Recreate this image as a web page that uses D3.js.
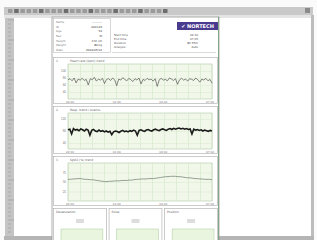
<!DOCTYPE html>
<html>
<head>
<meta charset="utf-8">
<script src="https://cdn.jsdelivr.net/npm/d3@7"></script>
<style>
  body { margin: 0; background: #fff; }
  svg { display: block; font-family: "DejaVu Sans", sans-serif; }
</style>
</head>
<body>
<svg id="chart" width="317" height="240"></svg>
<script>
// --- data ---
const hrValues = [75,78,72,80,66,77,74,79,73,76,60,78,75,82,71,77,74,79,64,76,78,73,80,75,58,77,74,81,76,72,79,75,70,78,74,80,63,76,73,79,75,77,71,78,56,75,79,74,76,72,80,77,73,78,62,75,79,74,77,71,78,76,73,80,75,68,77,74,79,72,76,65];
const rrValues = [84,86,70,88,83,85,81,87,84,80,86,83,66,82,85,80,78,83,79,81,77,80,76,79,68,77,80,78,75,79,82,78,80,77,81,79,83,80,66,82,84,81,79,83,85,82,80,84,86,83,81,85,87,84,82,86,88,85,89,86,88,90,87,89,86,88,85,87,70,86,83,85,82,84,80,83,81,79,82,80];
const spo2Values = [57,57,58,58,59,59,58,57,57,56,56,55,54,53,52,51,51,52,52,53,53,53,54,54,54,55,55,56,57,57,58,58,58,59,59,59,60,61,62,63,64,64,65,65,65,64,64,63,62,61,61,60,59,59,58,58,57,57,57,56];
const timeLabels = ["22:00", "01:00", "04:00", "07:00"];
const headerLabels = ["Name", "ID", "Age", "Sex", "Height", "Weight", "Date"];
const headerValues = ["----------", "000123", "54", "M", "172 cm", "80 kg", "2004/05/12"];
const infoLabels = ["Start time", "End time", "Duration", "Analysis"];
const infoValues = ["22:10", "07:05", "8h 55m", "Auto"];
const panelTitles = ["Heart rate (bpm)  trend", "Resp. trend  /  events", "SpO2 (%)  trend"];
const summaryTitles = ["Desaturation", "Pulse", "Position"];

const svg = d3.select("#chart");

// window frame
svg.append("rect").attr("x", 0).attr("y", 0).attr("width", 317).attr("height", 240).attr("fill", "#fafafa");
svg.append("rect").attr("x", 4).attr("y", 7).attr("width", 309).attr("height", 8).attr("fill", "#c9c9c9");
svg.append("rect").attr("x", 4).attr("y", 15).attr("width", 309).attr("height", 3).attr("fill", "#e4e4e4");
svg.append("rect").attr("x", 5).attr("y", 18).attr("width", 9).attr("height", 222).attr("fill", "#c4c4c4");
svg.append("rect").attr("x", 14).attr("y", 18).attr("width", 297).attr("height", 218).attr("fill", "#ffffff");
svg.append("rect").attr("x", 311).attr("y", 15).attr("width", 3).attr("height", 225).attr("fill", "#bdbdbd");
svg.append("rect").attr("x", 4).attr("y", 236).attr("width", 310).attr("height", 4).attr("fill", "#b5b5b5");

// toolbar buttons
const toolbar = d3.range(0, 26);
svg.append("g").selectAll("rect").data(toolbar).join("rect")
  .attr("x", (d) => 8 + d * 6.2).attr("y", 9).attr("width", 4.5).attr("height", 4)
  .attr("fill", (d) => (d % 4 === 1 ? "#6d6d6d" : "#9a9a9a"));
svg.append("rect").attr("x", 305).attr("y", 8).attr("width", 5).attr("height", 5).attr("fill", "#8a8a8a");

// ruler ticks
svg.append("g").selectAll("line").data(d3.range(20, 236, 4)).join("line")
  .attr("x1", 8).attr("x2", (d, i) => (i % 5 === 0 ? 14 : 11))
  .attr("y1", (d) => d).attr("y2", (d) => d)
  .attr("stroke", "#8c8c8c").attr("stroke-width", 0.5);

// page
svg.append("rect").attr("x", 52).attr("y", 17).attr("width", 167).attr("height", 224)
  .attr("fill", "#fff").attr("stroke", "#9a9a9a").attr("stroke-width", 0.8);
svg.append("line").attr("x1", 218.5).attr("x2", 218.5).attr("y1", 17).attr("y2", 240)
  .attr("stroke", "#6f9a72").attr("stroke-width", 0.8);

// header table
svg.append("rect").attr("x", 53.5).attr("y", 18.5).attr("width", 57).attr("height", 34)
  .attr("fill", "none").attr("stroke", "#b0b0b0").attr("stroke-width", 0.5);
const rowY = d3.scalePoint().domain(d3.range(headerLabels.length)).range([22, 50]);
svg.append("g").selectAll("text").data(headerLabels).join("text")
  .attr("x", 56).attr("y", (d, i) => rowY(i) + 1).text((d) => d)
  .attr("font-size", 2.8).attr("fill", "#777");
svg.append("g").selectAll("text").data(headerValues).join("text")
  .attr("x", 102).attr("y", (d, i) => rowY(i) + 1).text((d) => d)
  .attr("text-anchor", "end").attr("font-size", 2.8).attr("fill", "#333");

// logo
svg.append("rect").attr("x", 177).attr("y", 22).attr("width", 41).attr("height", 8).attr("fill", "#4a3b8f");
svg.append("text").attr("x", 197.5).attr("y", 28).attr("text-anchor", "middle")
  .attr("font-size", 5).attr("font-weight", "bold").attr("fill", "#fff").text("✔ NORTECH");

// info rows
const infoY = d3.scalePoint().domain(d3.range(infoLabels.length)).range([36, 48]);
svg.append("g").selectAll("text").data(infoLabels).join("text")
  .attr("x", 114).attr("y", (d, i) => infoY(i)).text((d) => d)
  .attr("font-size", 2.8).attr("fill", "#555");
svg.append("g").selectAll("text").data(infoValues).join("text")
  .attr("x", 198).attr("y", (d, i) => infoY(i)).text((d) => d)
  .attr("text-anchor", "end").attr("font-size", 2.8).attr("fill", "#444");
svg.append("line").attr("x1", 112).attr("x2", 216).attr("y1", 52.5).attr("y2", 52.5)
  .attr("stroke", "#b5b5b5").attr("stroke-width", 0.5);

// trend panels
const panels = [
  { values: hrValues, top: 57, bottom: 104, domain: [20, 120], ticks: [40, 60, 80, 100], width: 0.7, color: "#555" },
  { values: rrValues, top: 106, bottom: 154, domain: [20, 140], ticks: [40, 80, 120], width: 1.6, color: "#1a1a1a" },
  { values: spo2Values, top: 156, bottom: 206, domain: [0, 100], ticks: [25, 50, 75], width: 0.7, color: "#6a7a6a" },
];

panels.forEach((p, k) => {
  const g = svg.append("g");
  g.append("rect").attr("x", 53.5).attr("y", p.top + 0.5).attr("width", 164).attr("height", p.bottom - p.top - 1)
    .attr("fill", "#fff").attr("stroke", "#a8a8a8").attr("stroke-width", 0.6);
  g.append("text").attr("x", 56).attr("y", p.top + 5).attr("font-size", 3).attr("fill", "#666").text(k + 1);
  g.append("text").attr("x", 70).attr("y", p.top + 5).attr("font-size", 3).attr("fill", "#666").text(panelTitles[k]);

  const plotTop = p.top + 7;
  const plotBottom = p.bottom - 5;
  const x = d3.scaleLinear().domain([0, p.values.length - 1]).range([68, 212]);
  const y = d3.scaleLinear().domain(p.domain).range([plotBottom, plotTop]);
  const xt = d3.scaleLinear().domain([0, 12]).range([68, 212]);

  g.append("rect").attr("x", 68).attr("y", plotTop).attr("width", 144).attr("height", plotBottom - plotTop)
    .attr("fill", "#f1f8ea").attr("stroke", "#9fbf98").attr("stroke-width", 0.5);

  // grid
  g.append("g").attr("transform", `translate(0,${plotBottom})`)
    .call(d3.axisBottom(xt).ticks(12).tickSize(-(plotBottom - plotTop)).tickFormat(""))
    .call((a) => a.select(".domain").remove())
    .call((a) => a.selectAll("line").attr("stroke", "#cfe2c3").attr("stroke-width", 0.5));
  g.append("g").attr("transform", "translate(68,0)")
    .call(d3.axisLeft(y).tickValues(p.ticks).tickSize(-144).tickPadding(2))
    .call((a) => a.select(".domain").remove())
    .call((a) => a.selectAll("line").attr("stroke", "#d8e8cf").attr("stroke-width", 0.5))
    .call((a) => a.selectAll("text").attr("font-size", 3).attr("fill", "#777"));

  // time labels
  const tx = d3.scalePoint().domain(timeLabels).range([70, 210]);
  g.append("g").selectAll("text").data(timeLabels).join("text")
    .attr("x", (d) => tx(d)).attr("y", plotBottom + 3.5).attr("text-anchor", "middle")
    .attr("font-size", 2.8).attr("fill", "#777").text((d) => d);

  g.append("path").datum(p.values)
    .attr("fill", "none").attr("stroke", p.color).attr("stroke-width", p.width)
    .attr("d", d3.line().x((d, i) => x(i)).y((d) => y(d)));
});

// summary panels
const sx = d3.scaleBand().domain(summaryTitles).range([53, 218]).paddingInner(0.03);
const sg = svg.append("g").selectAll("g").data(summaryTitles).join("g");
sg.append("rect").attr("x", (d) => sx(d) + 0.5).attr("y", 208.5).attr("width", sx.bandwidth() - 1).attr("height", 32)
  .attr("fill", "#fff").attr("stroke", "#a8a8a8").attr("stroke-width", 0.6);
sg.append("text").attr("x", (d) => sx(d) + 3).attr("y", 213).attr("font-size", 3).attr("fill", "#666").text((d) => d);
sg.append("rect").attr("x", (d) => sx(d) + sx.bandwidth() / 2 - 4).attr("y", 219).attr("width", 8).attr("height", 4)
  .attr("fill", "#ddd");
sg.append("rect").attr("x", (d) => sx(d) + 8).attr("y", 229).attr("width", sx.bandwidth() - 12).attr("height", 12)
  .attr("fill", "#eaf5df").attr("stroke", "#a9c99c").attr("stroke-width", 0.5);
</script>
</body>
</html>
